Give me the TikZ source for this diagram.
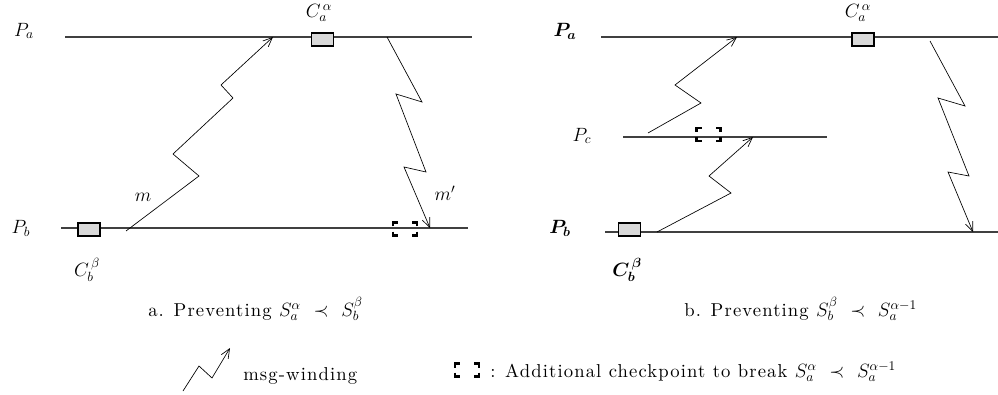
\documentclass[tikz,border=0pt]{standalone}
\usepackage{fontspec}
\usepackage{bm}
\newfontfamily\capfont{lmroman10-regular}[Extension=.otf, LetterSpace=6]
\usetikzlibrary{arrows.meta}
\tikzset{
  proc/.style={draw=black!75, line width=0.8pt},
  msg/.style={draw=black, line width=0.5pt, line join=miter, -{Straight Barb[length=7pt,width=6pt]}},
  ckbox/.style={draw=black, line width=0.9pt, fill=black!15, rectangle, inner sep=0pt, minimum width=16.5pt, minimum height=9.8pt},
  lbl/.style={inner sep=0pt, font=\fontsize{14}{16}\selectfont},
  captxt/.style={inner sep=0pt, anchor=base west, font=\fontsize{14}{16}\selectfont\capfont},
  brk/.style={draw=black, line width=1.8pt, line cap=butt, line join=miter},
  extra ck/.pic={
    \draw[brk] (-12,-2.5) -- (-12,-6.5) -- (-7,-6.5);
    \draw[brk] (-12,2.5) -- (-12,6.5) -- (-7,6.5);
    \draw[brk] (12,-2.5) -- (12,-6.5) -- (7,-6.5);
    \draw[brk] (12,2.5) -- (12,6.5) -- (7,6.5);
  }
}
\begin{document}
\begin{tikzpicture}[x=0.75pt, y=-0.75pt]
\useasboundingbox (0,0) rectangle (998,395);

% ---------------- panel a ----------------
\coordinate (aPaL) at (65,37);   \coordinate (aPaR) at (472,37);
\coordinate (aPbL) at (61,228);  \coordinate (aPbR) at (468,228);
\draw[proc] (aPaL) -- (aPaR);
\draw[proc] (aPbL) -- (aPbR);
\node[lbl] (aPa) at (24,31) {$P_a$};
\node[lbl] (aPb) at (21,228) {$P_b$};
\node[ckbox] (aCa) at (322.5,39.5) {};
\node[ckbox] (aCb) at (89,229.5) {};
\node[lbl] (aCaL) at (319,13) {$C_a^{\,\alpha}$};
\node[lbl] (aCbL) at (87,270) {$C_b^{\,\beta}$};
\pic (aCk) at (405,229) {extra ck};

% message m
\coordinate (am0) at (126,231);
\coordinate (am1) at (199,176);
\coordinate (am2) at (173,154);
\coordinate (am3) at (233,98);
\coordinate (am4) at (221,85);
\coordinate (am5) at (273,37);
\draw[msg] (am0) -- (am1) -- (am2) -- (am3) -- (am4) -- (am5);
\node[lbl] (amL) at (143,197) {$m$};

% message m'
\coordinate (an0) at (387,37);
\coordinate (an1) at (422,102);
\coordinate (an2) at (396,94);
\coordinate (an3) at (426,172);
\coordinate (an4) at (404,167);
\coordinate (an5) at (430,228);
\draw[msg] (an0) -- (an1) -- (an2) -- (an3) -- (an4) -- (an5);
\node[lbl] (anL) at (445,193) {$m'$};

\node[captxt] (capA) at (148,316) {a. Preventing $S_a^{\alpha}\ \prec\ S_b^{\beta}$};

% ---------------- panel b ----------------
\coordinate (bPaL) at (601,37);  \coordinate (bPaR) at (998,37);
\coordinate (bPcL) at (623,137); \coordinate (bPcR) at (827,137);
\coordinate (bPbL) at (605,232); \coordinate (bPbR) at (998,232);
\draw[proc] (bPaL) -- (bPaR);
\draw[proc] (bPcL) -- (bPcR);
\draw[proc] (bPbL) -- (bPbR);
\node[lbl] (bPa) at (565,31) {$\bm{P_a}$};
\node[lbl] (bPc) at (582,136) {$P_c$};
\node[lbl] (bPb) at (560,228) {$\bm{P_b}$};
\node[ckbox] (bCa) at (863,39.5) {};
\node[ckbox] (bCb) at (629.5,229.5) {};
\node[lbl] (bCaL) at (858,13) {$C_a^{\,\alpha}$};
\node[lbl] (bCbL) at (627,270) {$\bm{C_b^{\,\beta}}$};
\pic (bCk) at (708.5,134.5) {extra ck};

% Pc -> Pa
\coordinate (bx0) at (648,133);
\coordinate (bx1) at (701,103);
\coordinate (bx2) at (675,85);
\coordinate (bx3) at (737,37);
\draw[msg] (bx0) -- (bx1) -- (bx2) -- (bx3);

% Pb -> Pc
\coordinate (by0) at (657,232);
\coordinate (by1) at (731,193);
\coordinate (by2) at (709,176);
\coordinate (by3) at (753,137);
\draw[msg] (by0) -- (by1) -- (by2) -- (by3);

% Pa -> Pb
\coordinate (bz0) at (930,41);
\coordinate (bz1) at (965,106);
\coordinate (bz2) at (938,98);
\coordinate (bz3) at (969,176);
\coordinate (bz4) at (948,172);
\coordinate (bz5) at (973,232);
\draw[msg] (bz0) -- (bz1) -- (bz2) -- (bz3) -- (bz4) -- (bz5);

\node[captxt] (capB) at (684,316) {b. Preventing $S_b^{\beta}\ \prec\ S_a^{\alpha-1}$};

% ---------------- legend ----------------
\coordinate (lg0) at (183,391);
\coordinate (lg1) at (199,366);
\coordinate (lg2) at (212,378);
\coordinate (lg3) at (230,348);
\draw[msg] (lg0) -- (lg1) -- (lg2) -- (lg3);
\node[captxt] (lgW) at (243,380) {msg-winding};
\pic (lgCk) at (467,370) {extra ck};
\node[captxt] (lgT) at (490,377) {: Additional checkpoint to break $S_a^{\alpha}\ \prec\ S_a^{\alpha-1}$};
\end{tikzpicture}
\end{document}
